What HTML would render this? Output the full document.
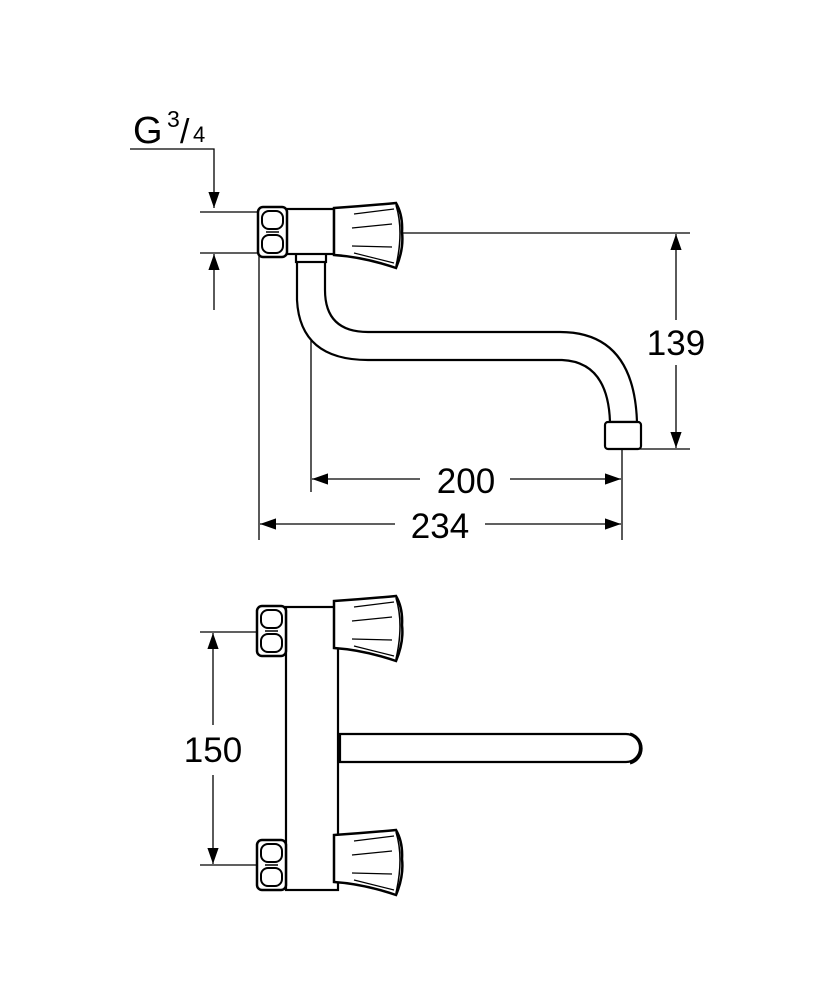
<!DOCTYPE html>
<html><head><meta charset="utf-8"><style>
html,body{margin:0;padding:0;background:#fff;}
svg{display:block}
text{font-family:"Liberation Sans",sans-serif;fill:#000}
</style></head><body>
<svg width="833" height="1000" viewBox="0 0 833 1000" xmlns="http://www.w3.org/2000/svg">
<defs>
<g id="nut">
  <rect x="0" y="0" width="29" height="50" rx="5" fill="#fff" stroke="#000" stroke-width="2.5"/>
  <rect x="4" y="4" width="21" height="18" rx="7" fill="none" stroke="#000" stroke-width="2"/>
  <rect x="4" y="28" width="21" height="18" rx="7" fill="none" stroke="#000" stroke-width="2"/>
  <line x1="8" y1="25" x2="21" y2="25" stroke="#000" stroke-width="1.5"/>
</g>
<g id="handle">
  <path d="M0,5 L0,52 Q30,54 62,65 Q70,46 68,29 Q69,12 62,0 Q30,3 0,5 Z" fill="#fff" stroke="#000" stroke-width="2.5"/>
  <path d="M62,2 Q70,28 62,63" fill="none" stroke="#000" stroke-width="1.5"/>
  <line x1="20" y1="11" x2="60" y2="6" stroke="#000" stroke-width="1.2"/>
  <line x1="18" y1="25" x2="58" y2="21" stroke="#000" stroke-width="1.2"/>
  <line x1="18" y1="43" x2="58" y2="44" stroke="#000" stroke-width="1.2"/>
  <line x1="20" y1="50" x2="60" y2="60" stroke="#000" stroke-width="1.2"/>
</g>
<marker id="a" viewBox="0 0 10 10" refX="10" refY="5" markerWidth="22" markerHeight="16" markerUnits="userSpaceOnUse" orient="auto">
  <path d="M0,1.5 L10,5 L0,8.5 Z" fill="#000"/>
</marker>
</defs>

<g stroke="#000" stroke-width="1.3" fill="none">
  <polyline points="130,149 214,149 214,208" marker-end="url(#a)"/>
  <line x1="200" y1="212" x2="258" y2="212"/>
  <line x1="200" y1="253" x2="258" y2="253"/>
  <line x1="214" y1="310" x2="214" y2="254" marker-end="url(#a)"/>
  <line x1="259" y1="256" x2="259" y2="540"/>
  <line x1="311" y1="330" x2="311" y2="492"/>
  <line x1="622" y1="449" x2="622" y2="540"/>
  <line x1="403" y1="233" x2="690" y2="233"/>
  <line x1="622" y1="449" x2="690" y2="449"/>
  <line x1="676" y1="320" x2="676" y2="234" marker-end="url(#a)"/>
  <line x1="676" y1="365" x2="676" y2="448" marker-end="url(#a)"/>
  <line x1="420" y1="479" x2="312" y2="479" marker-end="url(#a)"/>
  <line x1="510" y1="479" x2="621" y2="479" marker-end="url(#a)"/>
  <line x1="395" y1="524" x2="260" y2="524" marker-end="url(#a)"/>
  <line x1="485" y1="524" x2="621" y2="524" marker-end="url(#a)"/>
  <line x1="200" y1="632" x2="258" y2="632"/>
  <line x1="200" y1="865" x2="258" y2="865"/>
  <line x1="213" y1="725" x2="213" y2="633" marker-end="url(#a)"/>
  <line x1="213" y1="775" x2="213" y2="864" marker-end="url(#a)"/>
</g>

<text x="133" y="143" font-size="38">G</text>
<text x="167" y="127" font-size="23">3</text>
<text x="180" y="143" font-size="34">/</text>
<text x="193" y="142" font-size="22">4</text>
<text x="676" y="355" font-size="35" text-anchor="middle">139</text>
<text x="466" y="493" font-size="35" text-anchor="middle">200</text>
<text x="440" y="538" font-size="35" text-anchor="middle">234</text>
<text x="213" y="762" font-size="35" text-anchor="middle">150</text>

<g stroke="#000" stroke-width="2.2" fill="#fff">
  <path d="M297,262 L297,300 Q300,360 368,360 L562,360 Q608,362 610,422 L637,422 Q634,332 560,332 L368,332 Q325,332 325,290 L325,262"/>
  <rect x="605" y="422" width="36" height="27" rx="3"/>
  <rect x="296" y="250" width="30" height="12"/>
  <rect x="286" y="209" width="48" height="45"/>
</g>
<use href="#nut" x="258" y="207"/>
<use href="#handle" x="334" y="203"/>

<g stroke="#000" stroke-width="2.2" fill="#fff">
  <path d="M340,734 L626,734 A14,14 0 0 1 626,762 L340,762 Z"/>
  <path d="M630,734 A15,15 0 0 1 630,763" fill="none" stroke-width="3"/>
  <rect x="286" y="607" width="52" height="283"/>
</g>
<use href="#nut" x="257" y="606"/>
<use href="#nut" x="257" y="840"/>
<use href="#handle" x="334" y="596"/>
<use href="#handle" x="334" y="830"/>
</svg>
</body></html>
